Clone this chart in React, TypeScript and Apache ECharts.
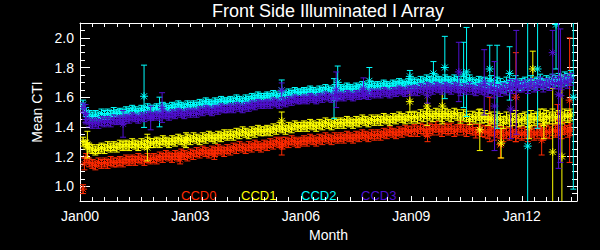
import React, { useEffect, useRef } from "react";
import * as echarts from "echarts";

// Monthly mean CTI values, starting Feb 2000 (one value per month)
const ccd0 = [
  0.98, 1.19, 1.16, 1.15, 1.14, 1.16, 1.15, 1.16, 1.15, 1.17, 1.16,
  1.16, 1.17, 1.16, 1.18, 1.17, 1.18, 1.17, 1.19, 1.18, 1.17, 1.19, 1.18,
  1.19, 1.18, 1.20, 1.19, 1.21, 1.20, 1.19, 1.21, 1.20, 1.22, 1.21, 1.20,
  1.22, 1.21, 1.23, 1.22, 1.24, 1.23, 1.22, 1.24, 1.23, 1.25, 1.24, 1.23,
  1.25, 1.24, 1.26, 1.25, 1.27, 1.26, 1.25, 1.27, 1.26, 1.28, 1.27, 1.26,
  1.28, 1.27, 1.29, 1.28, 1.30, 1.29, 1.28, 1.30, 1.29, 1.31, 1.30, 1.29,
  1.30, 1.31, 1.30, 1.32, 1.31, 1.30, 1.32, 1.31, 1.33, 1.32, 1.31, 1.33,
  1.32, 1.33, 1.32, 1.34, 1.33, 1.32, 1.34, 1.33, 1.35, 1.34, 1.33, 1.35,
  1.34, 1.35, 1.34, 1.36, 1.35, 1.37, 1.36, 1.35, 1.37, 1.36, 1.38, 1.37,
  1.37, 1.38, 1.37, 1.39, 1.38, 1.37, 1.39, 1.38, 1.40, 1.38, 1.37, 1.39,
  1.38, 1.39, 1.37, 1.38, 1.40, 1.38, 1.37, 1.39, 1.38, 1.36, 1.38, 1.37,
  1.37, 1.36, 1.38, 1.35, 1.37, 1.36, 1.34, 1.36, 1.35, 1.37, 1.34, 1.36,
  1.35, 1.36, 1.34, 1.37, 1.35, 1.36, 1.38, 1.35, 1.37, 1.36, 1.38, 1.37,
  1.38, 1.36, 1.39, 1.37, 1.38,
];
const ccd1 = [
  1.30, 1.28, 1.26, 1.25, 1.24, 1.25, 1.26, 1.25, 1.27, 1.26, 1.27,
  1.26, 1.28, 1.27, 1.28, 1.27, 1.29, 1.28, 1.27, 1.29, 1.28, 1.30, 1.29,
  1.29, 1.30, 1.29, 1.31, 1.30, 1.29, 1.31, 1.30, 1.32, 1.31, 1.30, 1.32,
  1.31, 1.33, 1.32, 1.31, 1.33, 1.32, 1.34, 1.33, 1.32, 1.34, 1.33, 1.35,
  1.34, 1.35, 1.34, 1.36, 1.35, 1.37, 1.36, 1.35, 1.37, 1.36, 1.38, 1.37,
  1.37, 1.38, 1.37, 1.39, 1.38, 1.40, 1.39, 1.38, 1.40, 1.39, 1.41, 1.40,
  1.40, 1.41, 1.40, 1.42, 1.41, 1.40, 1.42, 1.41, 1.43, 1.42, 1.41, 1.43,
  1.42, 1.43, 1.42, 1.44, 1.43, 1.42, 1.44, 1.43, 1.45, 1.44, 1.43, 1.45,
  1.44, 1.45, 1.44, 1.46, 1.45, 1.44, 1.46, 1.45, 1.47, 1.46, 1.45, 1.47,
  1.46, 1.47, 1.46, 1.48, 1.47, 1.49, 1.48, 1.47, 1.49, 1.48, 1.47, 1.49,
  1.48, 1.47, 1.49, 1.48, 1.46, 1.48, 1.47, 1.45, 1.47, 1.46, 1.48, 1.46,
  1.47, 1.45, 1.46, 1.44, 1.46, 1.45, 1.43, 1.46, 1.44, 1.45, 1.47, 1.44,
  1.45, 1.46, 1.44, 1.47, 1.45, 1.46, 1.48, 1.45, 1.47, 1.46, 1.48, 1.46,
  1.47, 1.46, 1.48, 1.47, 1.48,
];
const ccd2 = [
  1.55, 1.50, 1.48, 1.47, 1.48, 1.47, 1.49, 1.48, 1.49, 1.48, 1.50,
  1.49, 1.50, 1.49, 1.51, 1.50, 1.52, 1.51, 1.50, 1.52, 1.51, 1.53, 1.52,
  1.52, 1.53, 1.52, 1.54, 1.53, 1.52, 1.54, 1.53, 1.55, 1.54, 1.53, 1.55,
  1.54, 1.55, 1.54, 1.56, 1.55, 1.57, 1.56, 1.55, 1.57, 1.56, 1.58, 1.57,
  1.57, 1.58, 1.57, 1.59, 1.58, 1.57, 1.59, 1.58, 1.60, 1.59, 1.61, 1.60,
  1.60, 1.61, 1.60, 1.62, 1.61, 1.60, 1.62, 1.61, 1.63, 1.62, 1.64, 1.63,
  1.63, 1.64, 1.63, 1.65, 1.64, 1.63, 1.65, 1.64, 1.66, 1.65, 1.64, 1.66,
  1.65, 1.66, 1.65, 1.67, 1.66, 1.65, 1.67, 1.66, 1.68, 1.67, 1.66, 1.68,
  1.67, 1.68, 1.67, 1.69, 1.68, 1.67, 1.69, 1.68, 1.70, 1.69, 1.68, 1.70,
  1.69, 1.70, 1.69, 1.71, 1.70, 1.72, 1.71, 1.70, 1.72, 1.71, 1.70, 1.72,
  1.71, 1.70, 1.72, 1.71, 1.69, 1.71, 1.70, 1.72, 1.70, 1.69, 1.71, 1.70,
  1.70, 1.69, 1.71, 1.68, 1.70, 1.69, 1.67, 1.70, 1.68, 1.69, 1.71, 1.68,
  1.69, 1.70, 1.68, 1.71, 1.69, 1.70, 1.72, 1.69, 1.71, 1.70, 1.72, 1.71,
  1.72, 1.71, 1.73, 1.72, 1.74,
];
const ccd3 = [
  1.53, 1.45, 1.43, 1.42, 1.43, 1.42, 1.44, 1.43, 1.44, 1.43, 1.45,
  1.44, 1.45, 1.44, 1.46, 1.45, 1.47, 1.46, 1.45, 1.47, 1.46, 1.48, 1.47,
  1.47, 1.48, 1.47, 1.49, 1.48, 1.47, 1.49, 1.48, 1.50, 1.49, 1.48, 1.50,
  1.49, 1.50, 1.49, 1.51, 1.50, 1.52, 1.51, 1.50, 1.52, 1.51, 1.53, 1.52,
  1.52, 1.53, 1.52, 1.54, 1.53, 1.52, 1.54, 1.53, 1.55, 1.54, 1.56, 1.55,
  1.55, 1.56, 1.55, 1.57, 1.56, 1.55, 1.57, 1.56, 1.58, 1.57, 1.59, 1.58,
  1.58, 1.59, 1.58, 1.60, 1.59, 1.58, 1.60, 1.59, 1.61, 1.60, 1.59, 1.61,
  1.60, 1.61, 1.60, 1.62, 1.61, 1.60, 1.62, 1.61, 1.63, 1.62, 1.61, 1.63,
  1.62, 1.63, 1.62, 1.64, 1.63, 1.62, 1.64, 1.63, 1.65, 1.64, 1.63, 1.65,
  1.64, 1.65, 1.64, 1.66, 1.65, 1.67, 1.66, 1.65, 1.67, 1.66, 1.65, 1.67,
  1.66, 1.65, 1.67, 1.66, 1.64, 1.66, 1.65, 1.67, 1.65, 1.64, 1.66, 1.65,
  1.65, 1.64, 1.66, 1.63, 1.65, 1.64, 1.66, 1.65, 1.67, 1.66, 1.68, 1.67,
  1.67, 1.68, 1.66, 1.69, 1.67, 1.68, 1.70, 1.67, 1.69, 1.68, 1.70, 1.69,
  1.70, 1.69, 1.71, 1.70, 1.72,
];

// Typical error bar half-length per year (2000..2013)
const ccd0Err = [0.03, 0.03, 0.03, 0.03, 0.03, 0.03, 0.03, 0.03, 0.03, 0.035, 0.035, 0.04, 0.04, 0.04];
const ccd1Err = [0.03, 0.03, 0.03, 0.03, 0.03, 0.03, 0.03, 0.03, 0.03, 0.035, 0.035, 0.04, 0.04, 0.04];
const ccd2Err = [0.03, 0.025, 0.025, 0.025, 0.025, 0.025, 0.025, 0.025, 0.025, 0.03, 0.03, 0.035, 0.035, 0.04];
const ccd3Err = [0.03, 0.025, 0.025, 0.025, 0.025, 0.025, 0.025, 0.025, 0.025, 0.03, 0.03, 0.035, 0.035, 0.04];

// Individual points with large error bars: [years since Jan 2000, value, error]
const ccd0Extra = [
  [0.12, 1.15, 0.04], [2.72, 1.18, 0.03], [3.65, 1.21, 0.03], [5.48, 1.27, 0.06],
  [9.44, 1.34, 0.04], [11.13, 1.45, 0.15], [11.42, 1.28, 0.09], [11.84, 1.6, 0.3],
  [12.54, 1.31, 0.1], [12.97, 1.45, 0.1], [13.3, 1.58, 0.42],
];
const ccd1Extra = [
  [0.2, 1.28, 0.09], [1.83, 1.26, 0.09], [2.88, 1.31, 0.05], [5.48, 1.44, 0.06],
  [8.96, 1.57, 0.07], [9.43, 1.54, 0.13], [9.84, 1.54, 0.12], [10.86, 1.38, 0.14],
  [11.44, 1.29, 0.1], [12.2, 1.4, 0.08], [12.3, 1.79, 0.12], [12.6, 1.42, 0.1],
  [12.84, 1.23, 0.43], [13.09, 1.2, 0.55],
];
const ccd2Extra = [
  [1.74, 1.606, 0.21], [2.16, 1.5, 0.1], [5.48, 1.646, 0.07], [6.9, 1.59, 0.135],
  [7.0, 1.7, 0.11], [7.86, 1.71, 0.09], [8.96, 1.74, 0.04], [9.6, 1.76, 0.08],
  [9.91, 1.8, 0.21], [10.42, 1.75, 0.22], [10.5, 1.77, 0.3], [11.13, 1.79, 0.16],
  [11.33, 1.67, 0.28], [11.67, 1.76, 0.18], [12.16, 1.27, 0.85], [12.43, 1.79, 0.4],
  [12.93, 2.09, 0.3], [13.4, 1.6, 0.62],
];
const ccd3Extra = [
  [0.15, 1.49, 0.06], [1.17, 1.42, 0.09], [1.92, 1.46, 0.08], [2.23, 1.53, 0.1],
  [5.48, 1.646, 0.05], [6.96, 1.65, 0.12], [7.7, 1.66, 0.07], [9.44, 1.61, 0.05],
  [10.29, 1.77, 0.2], [10.98, 1.7, 0.22], [11.26, 1.54, 0.3], [11.7, 1.52, 0.2],
  [11.85, 1.7, 0.35], [12.84, 1.9, 0.15], [13.0, 1.62, 0.5], [13.05, 1.61, 0.45],
];

const seriesNames = ["CCD0", "CCD1", "CCD2", "CCD3"];
const seriesColors = ["#ff2a00", "#ffff00", "#00ffff", "#5010d0"];
const xTickLabels = ["Jan00", "Jan03", "Jan06", "Jan09", "Jan12"];
const titleText = "Front Side Illuminated I Array";

const FONT = "Liberation Sans";

function buildData(vals: number[], errs: number[], extra: number[][]) {
  const pts = vals.map((v, i) => {
    const x = (i + 1) / 12;
    return [x, v, errs[Math.floor(x)]];
  });
  return pts.concat(extra);
}

function makeRender(color: string) {
  return (params: any, api: any) => {
    const x = api.value(0);
    const y = api.value(1);
    const e = api.value(2);
    const c = api.coord([x, y]);
    const t = api.coord([x, y + e]);
    const b = api.coord([x, y - e]);
    const cap = 3;
    const r = 4;
    const d = 3;
    const st = { stroke: color, lineWidth: 1 };
    const L = (x1: number, y1: number, x2: number, y2: number) => ({
      type: "line",
      shape: { x1, y1, x2, y2 },
      style: st,
    });
    return {
      type: "group",
      children: [
        L(c[0], t[1], c[0], b[1]),
        L(c[0] - cap, t[1], c[0] + cap, t[1]),
        L(c[0] - cap, b[1], c[0] + cap, b[1]),
        L(c[0] - r, c[1], c[0] + r, c[1]),
        L(c[0], c[1] - r, c[0], c[1] + r),
        L(c[0] - d, c[1] - d, c[0] + d, c[1] + d),
        L(c[0] - d, c[1] + d, c[0] + d, c[1] - d),
      ],
    };
  };
}

export default function App() {
  const ref = useRef<HTMLDivElement>(null);
  useEffect(() => {
    if (!ref.current) return;
    const chart = echarts.init(ref.current, null, { renderer: "svg" });
    const datasets = [
      buildData(ccd0, ccd0Err, ccd0Extra),
      buildData(ccd1, ccd1Err, ccd1Extra),
      buildData(ccd2, ccd2Err, ccd2Extra),
      buildData(ccd3, ccd3Err, ccd3Extra),
    ];
    const white = "#ffffff";
    const xCommon = { type: "value", min: 0, max: 13.5, splitLine: { show: false } };
    const yCommon = { type: "value", min: 0.9, max: 2.1, splitLine: { show: false } };
    chart.setOption({
      animation: false,
      backgroundColor: "#000000",
      grid: { left: 80, top: 23, right: 23, bottom: 49 },
      xAxis: [
        {
          ...xCommon,
          position: "bottom",
          interval: 3,
          axisLine: { onZero: false, lineStyle: { color: white, width: 1 } },
          axisTick: { inside: true, length: 5, lineStyle: { color: white } },
          axisLabel: {
            color: white,
            fontSize: 14,
            fontFamily: FONT,
            margin: 8,
            showMaxLabel: false,
            formatter: (v: number) => xTickLabels[Math.round(v / 3)] ?? "",
          },
          name: "Month",
          nameLocation: "middle",
          nameGap: 23,
          nameTextStyle: { color: white, fontSize: 14, fontFamily: FONT },
        },
        {
          ...xCommon,
          position: "bottom",
          interval: 1 / 3,
          axisLine: { show: false, onZero: false },
          axisTick: { inside: true, length: 4, lineStyle: { color: white } },
          axisLabel: { show: false },
        },
        {
          ...xCommon,
          position: "top",
          interval: 1 / 3,
          axisLine: { onZero: false, lineStyle: { color: white, width: 1 } },
          axisTick: { inside: true, length: 4, lineStyle: { color: white } },
          axisLabel: { show: false },
        },
      ],
      yAxis: [
        {
          ...yCommon,
          position: "left",
          splitNumber: 6,
          axisLine: { show: true, onZero: false, lineStyle: { color: white, width: 1 } },
          axisTick: { inside: true, length: 10, lineStyle: { color: white } },
          axisLabel: {
            color: white,
            fontSize: 14,
            fontFamily: FONT,
            margin: 6,
            showMinLabel: false,
            showMaxLabel: false,
            formatter: (v: number) => v.toFixed(1),
          },
          name: "Mean CTI",
          nameLocation: "middle",
          nameGap: 33,
          nameTextStyle: { color: white, fontSize: 14, fontFamily: FONT },
        },
        {
          ...yCommon,
          position: "left",
          interval: 0.05,
          axisLine: { show: false, onZero: false },
          axisTick: { inside: true, length: 5, lineStyle: { color: white } },
          axisLabel: { show: false },
        },
        {
          ...yCommon,
          position: "right",
          splitNumber: 6,
          axisLine: { show: true, onZero: false, lineStyle: { color: white, width: 1 } },
          axisTick: { inside: true, length: 10, lineStyle: { color: white } },
          axisLabel: { show: false },
        },
        {
          ...yCommon,
          position: "right",
          interval: 0.05,
          axisLine: { show: false, onZero: false },
          axisTick: { inside: true, length: 5, lineStyle: { color: white } },
          axisLabel: { show: false },
        },
      ],
      series: datasets.map((data, i) => ({
        name: seriesNames[i],
        type: "custom",
        xAxisIndex: 0,
        yAxisIndex: 0,
        clip: true,
        renderItem: makeRender(seriesColors[i]),
        encode: { x: 0, y: 1 },
        data,
      })),
      graphic: [
        {
          type: "text",
          x: 328,
          y: 2,
          style: {
            text: titleText,
            fill: white,
            font: `18px ${FONT}`,
            textAlign: "center",
            textVerticalAlign: "top",
          },
        },
        ...seriesNames.map((n, i) => ({
          type: "text",
          x: 181 + i * 60,
          y: 189,
          style: {
            text: n,
            fill: seriesColors[i],
            font: `13px ${FONT}`,
            textAlign: "left",
            textVerticalAlign: "top",
          },
        })),
      ],
    });
    return () => chart.dispose();
  }, []);
  return (
    <div
      ref={ref}
      style={{ position: "fixed", left: 0, top: 0, width: 600, height: 250, background: "#000" }}
    />
  );
}
